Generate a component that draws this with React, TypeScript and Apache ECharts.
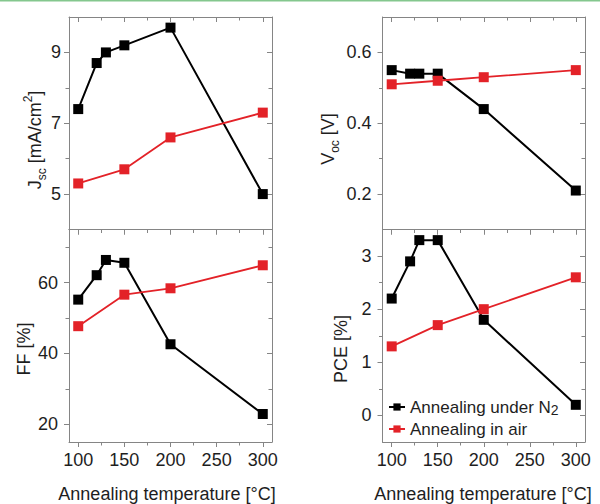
import React, { useEffect, useRef } from 'react';
import * as echarts from 'echarts';

// ---- data ----
const tempN2 = [100, 120, 130, 150, 200, 300];
const tempAir = [100, 150, 200, 300];

const jscN2 = [7.4, 8.7, 9.0, 9.2, 9.7, 5.0];
const jscAir = [5.3, 5.7, 6.6, 7.3];
const vocN2 = [0.55, 0.54, 0.54, 0.54, 0.44, 0.21];
const vocAir = [0.51, 0.52, 0.53, 0.55];
const ffN2 = [55.2, 62.1, 66.4, 65.6, 42.6, 22.9];
const ffAir = [47.7, 56.6, 58.4, 64.9];
const pceN2 = [2.2, 2.9, 3.3, 3.3, 1.8, 0.2];
const pceAir = [1.3, 1.7, 2.0, 2.6];

const xMajorTicks = [100, 150, 200, 250, 300];
const xMinorTicks = [125, 175, 225, 275];
const jscMajor = [5, 7, 9];
const jscMinor = [6, 8];
const vocMajor = [0.2, 0.4, 0.6];
const vocMinor = [0.3, 0.5];
const ffMajor = [20, 40, 60];
const ffMinor = [30, 50, 70];
const pceMajor = [0, 1, 2, 3];
const pceMinor = [0.5, 1.5, 2.5];

const SERIES_N2 = 'Annealing under N2';
const SERIES_AIR = 'Annealing in air';
const X_TITLE = 'Annealing temperature [°C]';

const FONT = 'Liberation Sans, Arial, Helvetica, sans-serif';
const FRAME = '#858585';
const TEXT = '#1e1e1e';
const BLACK = '#000000';
const RED = '#e32228';

const panels = [
  { left: 69, top: 17, width: 203, height: 212.5, yMin: 4, yMax: 10, yMajor: jscMajor, yMinor: jscMinor, n2: jscN2, air: jscAir, xLabels: false, yMargin: 8 },
  { left: 382.5, top: 17, width: 202.5, height: 212.5, yMin: 0.1, yMax: 0.7, yMajor: vocMajor, yMinor: vocMinor, n2: vocN2, air: vocAir, xLabels: false, yMargin: 11 },
  { left: 69, top: 229.5, width: 203, height: 212.5, yMin: 15, yMax: 75, yMajor: ffMajor, yMinor: ffMinor, n2: ffN2, air: ffAir, xLabels: true, yMargin: 11 },
  { left: 382.5, top: 229.5, width: 202.5, height: 212.5, yMin: -0.5, yMax: 3.5, yMajor: pceMajor, yMinor: pceMinor, n2: pceN2, air: pceAir, xLabels: true, yMargin: 11 },
];

function buildOption() {
  const grid: any[] = [];
  const xAxis: any[] = [];
  const yAxis: any[] = [];
  const series: any[] = [];
  const lineS = { color: FRAME, width: 1 };
  const labelS = { fontSize: 18, color: TEXT, fontFamily: FONT };

  panels.forEach((p, i) => {
    grid.push({ left: p.left, top: p.top, width: p.width, height: p.height, containLabel: false, outerBoundsMode: 'none' });
    const xBase = { gridIndex: i, type: 'value', min: 90, max: 310, splitLine: { show: false } };
    xAxis.push({
      ...xBase, position: 'bottom',
      axisLine: { show: true, onZero: false, lineStyle: lineS },
      axisTick: { show: true, inside: false, length: 5, customValues: xMajorTicks, lineStyle: lineS },
      axisLabel: { show: p.xLabels, customValues: xMajorTicks, margin: 9, ...labelS },
    });
    xAxis.push({
      ...xBase, position: 'bottom',
      axisLine: { show: false, onZero: false },
      axisTick: { show: true, inside: false, length: 3.5, customValues: xMinorTicks, lineStyle: lineS },
      axisLabel: { show: false },
    });
    xAxis.push({
      ...xBase, position: 'top',
      axisLine: { show: true, onZero: false, lineStyle: lineS },
      axisTick: { show: true, inside: true, length: 5, customValues: xMajorTicks, lineStyle: lineS },
      axisLabel: { show: false },
    });
    xAxis.push({
      ...xBase, position: 'top',
      axisLine: { show: false, onZero: false },
      axisTick: { show: true, inside: true, length: 3.5, customValues: xMinorTicks, lineStyle: lineS },
      axisLabel: { show: false },
    });

    const yBase = { gridIndex: i, type: 'value', min: p.yMin, max: p.yMax, splitLine: { show: false } };
    yAxis.push({
      ...yBase, position: 'left',
      axisLine: { show: true, onZero: false, lineStyle: lineS },
      axisTick: { show: true, inside: false, length: 5, customValues: p.yMajor, lineStyle: lineS },
      axisLabel: { show: true, customValues: p.yMajor, margin: p.yMargin, ...labelS },
    });
    yAxis.push({
      ...yBase, position: 'left',
      axisLine: { show: false, onZero: false },
      axisTick: { show: true, inside: false, length: 3.5, customValues: p.yMinor, lineStyle: lineS },
      axisLabel: { show: false },
    });
    yAxis.push({
      ...yBase, position: 'right',
      axisLine: { show: true, onZero: false, lineStyle: lineS },
      axisTick: { show: true, inside: true, length: 5, customValues: p.yMajor, lineStyle: lineS },
      axisLabel: { show: false },
    });
    yAxis.push({
      ...yBase, position: 'right',
      axisLine: { show: false, onZero: false },
      axisTick: { show: true, inside: true, length: 3.5, customValues: p.yMinor, lineStyle: lineS },
      axisLabel: { show: false },
    });

    series.push({
      type: 'line', name: SERIES_N2, xAxisIndex: i * 4, yAxisIndex: i * 4,
      data: tempN2.map((t, k) => [t, p.n2[k]]),
      symbol: 'rect', symbolSize: 10,
      lineStyle: { color: BLACK, width: 2 }, itemStyle: { color: BLACK },
      z: 3,
    });
    series.push({
      type: 'line', name: SERIES_AIR, xAxisIndex: i * 4, yAxisIndex: i * 4,
      data: tempAir.map((t, k) => [t, p.air[k]]),
      symbol: 'rect', symbolSize: 10,
      lineStyle: { color: RED, width: 1.8 }, itemStyle: { color: RED },
      z: 4,
    });
  });

  const legendText = {
    fontSize: 17, color: TEXT, fontFamily: FONT, lineHeight: 20,
    rich: { sub: { fontSize: 14, lineHeight: 14, verticalAlign: 'bottom', color: TEXT, fontFamily: FONT } },
  };
  const legend = [
    {
      data: [SERIES_N2], left: 388, top: 397, orient: 'vertical', padding: 0,
      itemWidth: 16, itemHeight: 9, selectedMode: false,
      formatter: () => 'Annealing under N{sub|2}', textStyle: legendText,
    },
    {
      data: [SERIES_AIR], left: 388, top: 419, orient: 'vertical', padding: 0,
      itemWidth: 16, itemHeight: 9, selectedMode: false,
      textStyle: legendText,
    },
  ];

  const richTitle = {
    sub: { fontSize: 12, lineHeight: 12, verticalAlign: 'bottom', fill: TEXT, fontFamily: FONT },
    sup: { fontSize: 12, lineHeight: 14, verticalAlign: 'top', fill: TEXT, fontFamily: FONT },
  };
  const yTitle = (x: number, y: number, text: string) => ({
    type: 'text', x, y, rotation: Math.PI / 2,
    style: { text, fontSize: 18, fontFamily: FONT, fill: TEXT, align: 'center', verticalAlign: 'middle', lineHeight: 26, rich: richTitle },
  });
  const xTitle = (x: number, y: number) => ({
    type: 'text', x, y,
    style: { text: X_TITLE, fontSize: 18, fontFamily: FONT, fill: TEXT, align: 'center', verticalAlign: 'middle' },
  });

  const graphic = [
    { type: 'rect', shape: { x: 0, y: 0, width: 600, height: 1.5 }, style: { fill: '#84c78e' } },
    yTitle(35, 140, 'J{sub|sc} [mA/cm{sup|2}]'),
    yTitle(328, 139, 'V{sub|oc} [V]'),
    yTitle(24, 349, 'FF [%]'),
    yTitle(341, 349, 'PCE [%]'),
    xTitle(167, 494),
    xTitle(483, 494),
  ];

  return {
    animation: false,
    backgroundColor: '#ffffff',
    grid, xAxis, yAxis, series, legend, graphic,
  };
}

export default function App() {
  const ref = useRef<HTMLDivElement>(null);
  useEffect(() => {
    if (!ref.current) return;
    const chart = echarts.init(ref.current, undefined, { renderer: 'svg' });
    chart.setOption(buildOption() as any);
    return () => chart.dispose();
  }, []);
  return <div ref={ref} style={{ position: 'absolute', left: 0, top: 0, width: 600, height: 504 }} />;
}
